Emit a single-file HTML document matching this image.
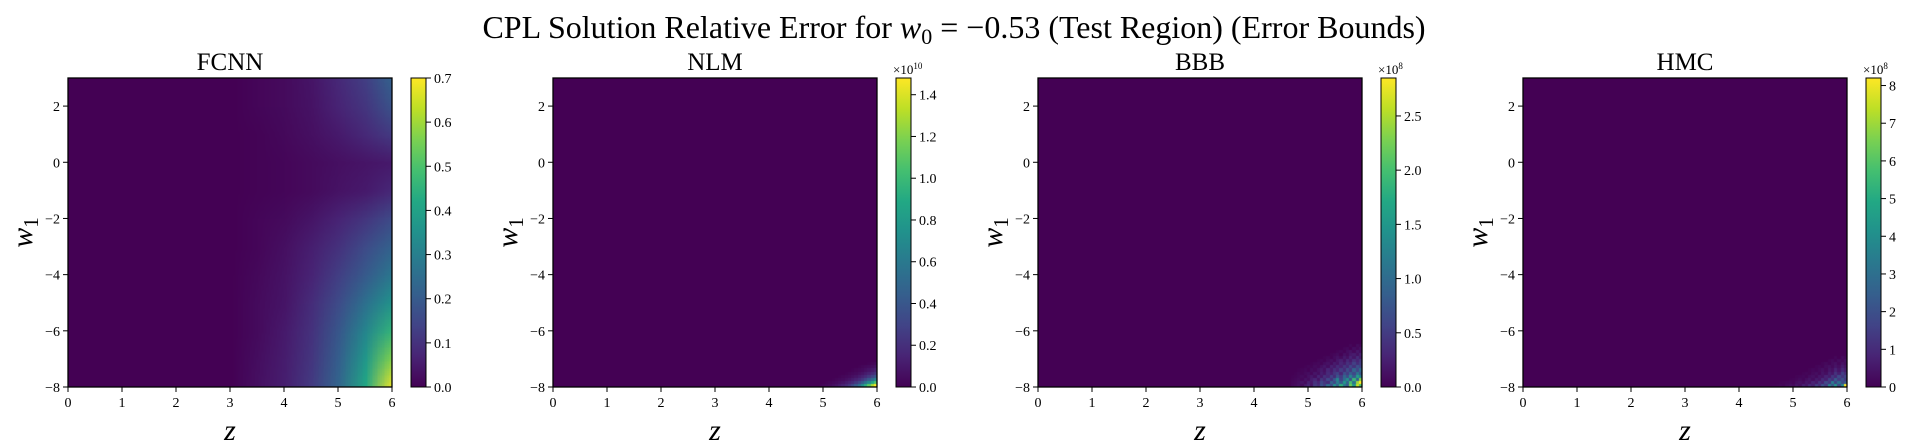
<!DOCTYPE html>
<html><head><meta charset="utf-8">
<style>
body{margin:0;background:#fff;}
svg{display:block;font-family:"Liberation Serif","DejaVu Serif",serif;}
</style></head>
<body>
<svg id="fig" width="1908" height="448" viewBox="0 0 1908 448" xmlns="http://www.w3.org/2000/svg">
<text x="954" y="38" text-anchor="middle" font-size="32">CPL Solution Relative Error for <tspan font-style="italic">w</tspan><tspan font-size="22" dy="6">0</tspan><tspan dy="-6"> = −0.53 (Test Region) (Error Bounds)</tspan></text>
</svg>
<script>
// ---- data ----
const panelTitles = ["FCNN","NLM","BBB","HMC"];
const xTicks = [0,1,2,3,4,5,6];
const yTicks = [2,0,-2,-4,-6,-8];
const cbMax = [0.7, 1.48, 2.85, 8.2];
const cbTicks0 = [0,0.1,0.2,0.3,0.4,0.5,0.6,0.7];
const cbTicks1 = [0,0.2,0.4,0.6,0.8,1.0,1.2,1.4];
const cbTicks2 = [0,0.5,1.0,1.5,2.0,2.5];
const cbTicks3 = [0,1,2,3,4,5,6,7,8];
const cbLabels0 = ["0.0","0.1","0.2","0.3","0.4","0.5","0.6","0.7"];
const cbLabels1 = ["0.0","0.2","0.4","0.6","0.8","1.0","1.2","1.4"];
const cbLabels2 = ["0.0","0.5","1.0","1.5","2.0","2.5"];
const cbLabels3 = ["0","1","2","3","4","5","6","7","8"];
const cbExp = ["", "10", "8", "8"];
// FCNN coarse field: rows w1 = 3..-8, cols z = 0..6 step 0.5
const fcnnField = [
 [0,0,0,0,0,0,0,0.01,0.02,0.04,0.08,0.13,0.22],
 [0,0,0,0,0,0,0,0.01,0.02,0.035,0.07,0.11,0.18],
 [0,0,0,0,0,0,0,0.005,0.015,0.03,0.05,0.08,0.12],
 [0,0,0,0,0,0,0,0.005,0.01,0.02,0.03,0.04,0.05],
 [0,0,0,0,0,0,0,0.005,0.01,0.02,0.035,0.05,0.08],
 [0,0,0,0,0,0,0,0.01,0.02,0.04,0.07,0.11,0.16],
 [0,0,0,0,0,0,0,0.01,0.03,0.06,0.10,0.16,0.22],
 [0,0,0,0,0,0,0,0.015,0.035,0.07,0.13,0.20,0.28],
 [0,0,0,0,0,0,0,0.02,0.04,0.09,0.16,0.26,0.36],
 [0,0,0,0,0,0,0,0.02,0.05,0.10,0.19,0.32,0.46],
 [0,0,0,0,0,0,0,0.025,0.055,0.11,0.21,0.37,0.57],
 [0,0,0,0,0,0,0,0.03,0.06,0.12,0.23,0.42,0.69]
];
// corner patches (bottom-right of a 100x100 grid), values in colorbar units
const nlmPatch = [
 [0,0,0,0,0,0,0,0,0,0,0,0,0,0,0,0.01,0.02,0.03],
 [0,0,0,0,0,0,0,0,0,0,0,0,0.01,0.02,0.03,0.04,0.05,0.07],
 [0,0,0,0,0,0,0,0,0,0,0.01,0.02,0.03,0.04,0.06,0.08,0.10,0.13],
 [0,0,0,0,0,0,0,0,0.01,0.02,0.03,0.04,0.06,0.08,0.11,0.14,0.18,0.22],
 [0,0,0,0,0,0,0.01,0.02,0.03,0.04,0.06,0.08,0.11,0.14,0.18,0.24,0.30,0.38],
 [0,0,0,0,0.01,0.02,0.03,0.04,0.06,0.08,0.11,0.14,0.18,0.24,0.32,0.42,0.52,0.65],
 [0,0,0.01,0.02,0.03,0.04,0.06,0.08,0.11,0.14,0.18,0.24,0.32,0.42,0.55,0.70,0.88,1.05],
 [0.01,0.02,0.03,0.04,0.06,0.08,0.11,0.14,0.18,0.24,0.32,0.42,0.55,0.72,0.92,1.10,1.30,1.48]
];
const bbbPatch = [
 [0,0,0,0,0,0,0,0,0,0,0,0,0,0,0,0,0,0,0.05,0,0.08,0.04],
 [0,0,0,0,0,0,0,0,0,0,0,0,0,0,0,0,0.04,0.06,0,0.10,0.05,0.12],
 [0,0,0,0,0,0,0,0,0,0,0,0,0,0,0.03,0.06,0.02,0.10,0.14,0.06,0.18,0.10],
 [0,0,0,0,0,0,0,0,0,0,0,0,0.03,0.05,0.08,0.02,0.12,0.07,0.18,0.22,0.12,0.25],
 [0,0,0,0,0,0,0,0,0,0,0.03,0.05,0.02,0.09,0.14,0.08,0.20,0.12,0.28,0.16,0.35,0.20],
 [0,0,0,0,0,0,0,0,0.03,0.05,0.02,0.08,0.12,0.06,0.18,0.25,0.14,0.32,0.20,0.40,0.28,0.45],
 [0,0,0,0,0,0,0.02,0.04,0.06,0.03,0.10,0.14,0.08,0.22,0.15,0.30,0.22,0.40,0.30,0.55,0.35,0.50],
 [0,0,0,0,0.02,0.04,0.03,0.08,0.05,0.12,0.18,0.10,0.26,0.18,0.35,0.25,0.45,0.32,0.60,0.40,0.70,0.55],
 [0,0,0.02,0.03,0.05,0.02,0.09,0.06,0.14,0.20,0.12,0.30,0.20,0.38,0.28,0.50,0.35,0.65,0.45,0.90,0.60,1.00],
 [0,0.02,0.04,0.03,0.07,0.10,0.05,0.16,0.10,0.24,0.16,0.35,0.25,0.45,0.55,0.30,0.70,0.50,0.85,0.60,1.10,0.75],
 [0.02,0.03,0.05,0.08,0.04,0.12,0.18,0.10,0.28,0.18,0.40,0.30,0.55,0.35,0.75,0.50,0.95,0.65,1.30,0.80,1.60,1.20],
 [0.03,0.05,0.07,0.05,0.14,0.09,0.22,0.30,0.15,0.45,0.30,0.60,0.40,0.80,1.30,0.55,1.00,1.40,0.70,1.90,0.90,2.30],
 [0.04,0.06,0.10,0.15,0.08,0.25,0.18,0.40,0.28,0.60,0.45,0.35,0.90,0.60,1.20,0.80,1.50,0.90,2.00,1.10,2.40,2.85],
 [0.05,0.08,0.12,0.08,0.20,0.30,0.15,0.45,0.35,0.70,0.50,1.00,0.65,1.40,0.90,1.80,1.10,0.80,2.20,1.50,2.60,2.00]
];
const hmcPatch = [
 [0,0,0,0,0,0,0,0,0,0,0,0,0,0,0,0,0,0,0,0,0.15,0,0.20,0.10],
 [0,0,0,0,0,0,0,0,0,0,0,0,0,0,0,0,0,0,0.12,0.20,0.08,0.25,0.15,0.30],
 [0,0,0,0,0,0,0,0,0,0,0,0,0,0,0,0,0.10,0.18,0.08,0.25,0.35,0.15,0.40,0.25],
 [0,0,0,0,0,0,0,0,0,0,0,0,0,0,0.10,0.15,0.08,0.25,0.35,0.20,0.45,0.30,0.60,0.40],
 [0,0,0,0,0,0,0,0,0,0,0,0,0.08,0.15,0.10,0.22,0.35,0.18,0.50,0.35,0.80,0.45,0.90,0.60],
 [0,0,0,0,0,0,0,0,0,0,0.08,0.12,0.06,0.20,0.30,0.15,0.45,0.30,0.70,0.50,1.20,0.70,1.50,1.00],
 [0,0,0,0,0,0,0,0,0.06,0.10,0.15,0.08,0.25,0.35,0.20,0.50,0.40,0.80,0.60,1.30,0.90,1.80,1.20,1.60],
 [0,0,0,0,0,0,0.05,0.08,0.12,0.20,0.10,0.30,0.45,0.25,0.60,0.45,1.00,0.70,1.50,1.10,2.40,1.40,2.00,1.30],
 [0,0,0,0.04,0.06,0.10,0.15,0.08,0.25,0.35,0.20,0.50,0.35,0.80,0.55,1.20,0.80,1.80,1.30,3.40,1.60,3.00,1.80,2.20],
 [0.03,0.05,0.08,0.12,0.08,0.20,0.30,0.18,0.45,0.30,0.70,0.50,1.00,0.70,1.50,1.00,2.00,1.40,3.60,2.20,4.20,1.80,3.80,8.20]
];

// ---- rendering ----
const NS="http://www.w3.org/2000/svg";
const svg=document.getElementById('fig');
const vir=[[68,1,84],[72,36,117],[65,68,135],[53,95,141],[42,120,142],[33,145,140],[34,168,132],[68,191,112],[122,209,81],[189,223,38],[253,231,37]];
function viridis(t){t=Math.max(0,Math.min(1,t));const f=t*10,i=Math.min(9,Math.floor(f)),r=f-i;const a=vir[i],b=vir[i+1];return [0,1,2].map(k=>Math.round(a[k]+(b[k]-a[k])*r));}
function el(tag,attrs,parent){const e=document.createElementNS(NS,tag);for(const k in attrs)e.setAttribute(k,attrs[k]);(parent||svg).appendChild(e);return e;}
const AX0=68, STEP=485, AW=324, AT=78, AH=309;
const xScale=(left,v)=>left+v/6*AW;
const yScale=v=>AT+(3-v)/11*AH;
const cbTicksAll=[cbTicks0,cbTicks1,cbTicks2,cbTicks3];
const cbLabelsAll=[cbLabels0,cbLabels1,cbLabels2,cbLabels3];
const patches=[null,nlmPatch,bbbPatch,hmcPatch];

function makeImage(p){
  const c=document.createElement('canvas');
  let w,h,smooth;
  if(p===0){w=fcnnField[0].length;h=fcnnField.length;smooth=true;}
  else{w=100;h=100;smooth=false;}
  c.width=w;c.height=h;const ctx=c.getContext('2d');const img=ctx.createImageData(w,h);
  for(let r=0;r<h;r++)for(let q=0;q<w;q++){
    let v=0;
    if(p===0)v=fcnnField[r][q];
    else{const pt=patches[p];const pr=r-(h-pt.length),pc=q-(w-pt[0].length);if(pr>=0&&pc>=0)v=pt[pr][pc];}
    const col=viridis(v/cbMax[p]);const i=(r*w+q)*4;img.data[i]=col[0];img.data[i+1]=col[1];img.data[i+2]=col[2];img.data[i+3]=255;
  }
  ctx.putImageData(img,0,0);
  const big=document.createElement('canvas');big.width=AW;big.height=AH;const b=big.getContext('2d');
  b.imageSmoothingEnabled=smooth;
  if(smooth){const sx=AW/(w-1),sy=AH/(h-1);b.drawImage(c,-sx/2,-sy/2,AW+sx,AH+sy);}
  else b.drawImage(c,0,0,AW,AH);
  return big.toDataURL();
}

for(let p=0;p<4;p++){
  const left=AX0+p*STEP;
  const g=el('g',{});
  
  
  const t=el('text',{x:left+AW/2,y:AT-8,'text-anchor':'middle','font-size':25},g);t.textContent=panelTitles[p];
  
  
  const im=el('image',{x:left,y:AT,width:AW,height:AH,preserveAspectRatio:'none'},g);
  im.setAttribute('href',makeImage(p));
  
  
  const fr=el('rect',{x:left,y:AT,width:AW,height:AH,fill:'none',stroke:'#000','stroke-width':1.3},g);
  
  
  xTicks.forEach(v=>{const x=xScale(left,v);el('line',{x1:x,x2:x,y1:AT+AH,y2:AT+AH+5,stroke:'#000'},g);
    const tt=el('text',{x:x,y:AT+AH+20,'text-anchor':'middle','font-size':14},g);tt.textContent=v;
    
    });
  yTicks.forEach(v=>{const y=yScale(v);el('line',{x1:left-5,x2:left,y1:y,y2:y,stroke:'#000'},g);
    const tt=el('text',{x:left-8,y:y+5,'text-anchor':'end','font-size':14},g);tt.textContent=(v<0?'−':'')+Math.abs(v);
    
    });
  const xl=el('text',{x:left+AW/2,y:440,'text-anchor':'middle','font-size':30,'font-style':'italic'},g);xl.textContent='z';
  
  
  const yl=el('text',{transform:`translate(${left-36},${AT+AH/2}) rotate(-90)`,'text-anchor':'middle','font-size':30,'font-style':'italic'},g);
  yl.innerHTML='w<tspan font-size="21" font-style="normal" dy="6">1</tspan>';
  
  
  // colorbar
  const cx=left+AW+19, cw=15;
  const gid='cbg'+p;const defs=el('defs',{},g);const lg=el('linearGradient',{id:gid,x1:0,y1:1,x2:0,y2:0},defs);
  for(let i=0;i<=10;i++){const c=viridis(i/10);el('stop',{offset:i/10,'stop-color':`rgb(${c})`},lg);}
  const cb=el('rect',{x:cx,y:AT,width:cw,height:AH,fill:`url(#${gid})`,stroke:'#000','stroke-width':1},g);
  
  
  cbTicksAll[p].forEach((v,i)=>{const y=AT+AH-v/cbMax[p]*AH;el('line',{x1:cx+cw,x2:cx+cw+5,y1:y,y2:y,stroke:'#000'},g);
    const tt=el('text',{x:cx+cw+8,y:y+5,'font-size':14},g);tt.textContent=cbLabelsAll[p][i];
    
    });
  if(cbExp[p]){const et=el('text',{x:cx-3,y:AT-4,'font-size':13},g);et.innerHTML='×10<tspan font-size="9" dy="-5">'+cbExp[p]+'</tspan>';
    
    }
}
</script>
</body></html>
